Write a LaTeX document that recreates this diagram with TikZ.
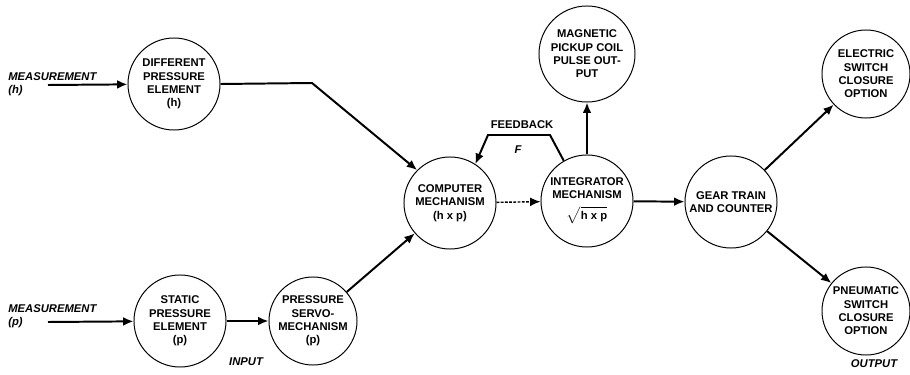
\documentclass[tikz,border=0pt]{standalone}
\usepackage{fontspec}
\setmainfont{Liberation Sans}
\usetikzlibrary{arrows.meta}
\tikzset{
  blk/.style={circle, draw, line width=0.7pt, minimum size=2.3cm, inner sep=0pt,
    align=center, font=\fontsize{8}{9.5}\selectfont\bfseries},
  flow/.style={line width=1.4pt, -{Latex[length=2.6mm,width=2.2mm]}},
  lbl/.style={font=\fontsize{8}{9.5}\selectfont\bfseries\itshape, align=left, inner sep=0pt}
}
\begin{document}
\begin{tikzpicture}[x=0.025cm, y=-0.025cm]
            \useasboundingbox (0,0) rectangle (910,375);
            % blocks
            \node[blk] (dpe) at (174,84) {DIFFERENT\\PRESSURE\\ELEMENT\\(h)};
            \node[blk] (spe) at (180,321) {STATIC\\PRESSURE\\ELEMENT\\(p)};
            \node[blk, minimum size=2.2cm] (psm) at (313,321) {PRESSURE\\SERVO-\\MECHANISM\\(p)};
            \node[blk] (cmp) at (450,203) {COMPUTER\\MECHANISM\\(h x p)};
            \node[blk] (int) at (587,201) {INTEGRATOR\\MECHANISM\\[5pt]$\sqrt{\hbox{\bfseries h x p}}$};
            \node[blk, minimum size=2.4cm] (mag) at (587,54) {MAGNETIC\\PICKUP COIL\\PULSE OUT-\\PUT};
            \node[blk] (gear) at (731,202) {GEAR TRAIN\\AND COUNTER};
            \node[blk, minimum size=2.2cm] (elec) at (866,74) {ELECTRIC\\SWITCH\\CLOSURE\\OPTION};
            \node[blk, minimum size=2.2cm] (pneu) at (866,311) {PNEUMATIC\\SWITCH\\CLOSURE\\OPTION};
            % labels
            \node[lbl, anchor=west] (mhl) at (8,84) {MEASUREMENT\\(h)};
            \node[lbl, anchor=west] (mpl) at (8,316) {MEASUREMENT\\(p)};
            \node[lbl] (inp) at (246,362) {INPUT};
            \node[lbl] (outp) at (874,364) {OUTPUT};
            \node[font=\fontsize{8}{9.5}\selectfont\bfseries] (fbl) at (522,125) {FEEDBACK};
            \node[lbl] (fl) at (518,150) {F};
            % connectors
            \coordinate (mh) at (48,85);
            \coordinate (mp) at (48,322);
            \coordinate (hbend) at (312,83);
            \coordinate (fb1) at (550,135);
            \coordinate (fb2) at (488,135);
            \draw[flow] (mh) -- (dpe);
            \draw[flow] (mp) -- (spe);
            \draw[flow] (dpe.east) -- (hbend) -- (cmp.north west);
            \draw[flow] (spe) -- (psm);
            \draw[flow] (psm) -- (cmp);
            \draw[flow, line width=1pt, dash pattern=on 2pt off 1pt] (cmp) -- (int);
            \draw[flow] (int.120) -- (fb1) -- (fb2) -- (cmp.57);
            \draw[flow] (int) -- (mag);
            \draw[flow] (int) -- (gear);
            \draw[flow] (gear) -- (elec);
            \draw[flow] (gear) -- (pneu);
        \end{tikzpicture}
\end{document}
